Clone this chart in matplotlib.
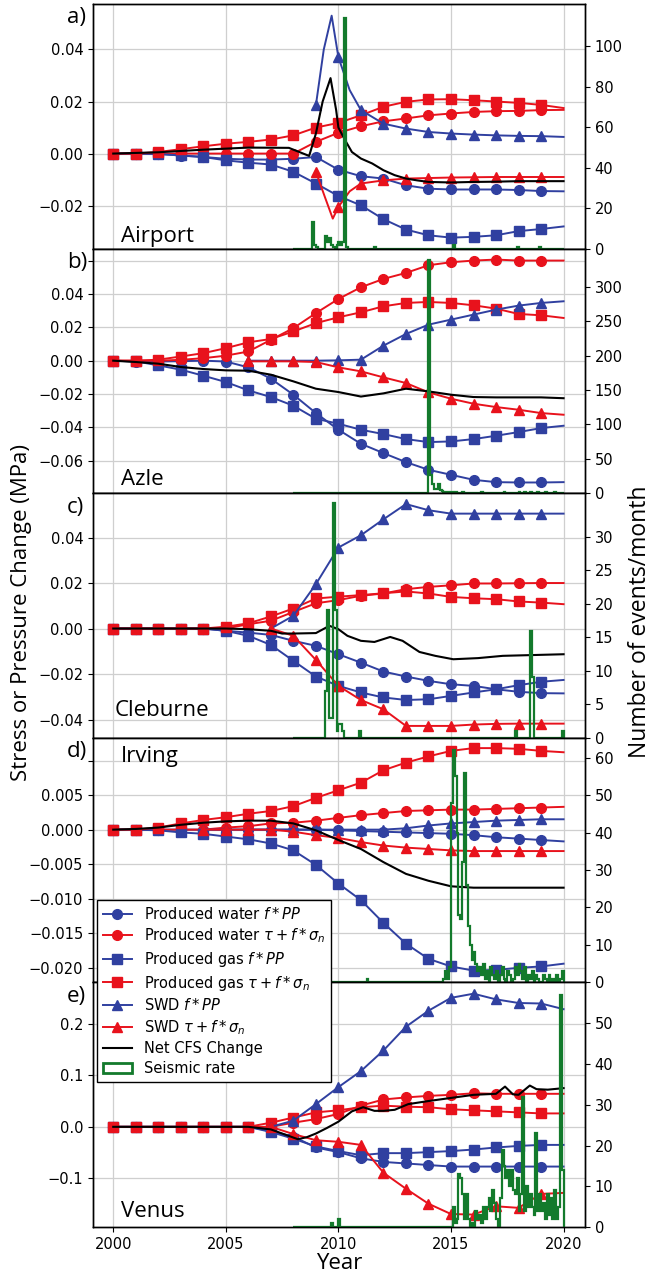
import numpy as np
import matplotlib
matplotlib.use("Agg")
import matplotlib.pyplot as plt
from matplotlib.lines import Line2D
from matplotlib.patches import Patch

BLUE = "#3040a0"
RED = "#e8121c"
GREEN = "#137a2c"
NAN = float("nan")

years = list(range(2000, 2021))

# ---- a) Airport ----
a_pw_pp = [0, 0, 0, -0.0008, -0.0013, -0.002, -0.0023, -0.0023, -0.002, -0.0013, -0.0062,
           -0.0087, -0.0096, -0.0122, -0.0135, -0.0138, -0.0138, -0.0138, -0.014, -0.0144, -0.0145]
a_pw_cfs = [0, 0, 0, 0, 0, 0, 0, 0, 0, 0.0045, 0.008, 0.0105, 0.0124, 0.0135, 0.0147, 0.0154,
            0.016, 0.0163, 0.0164, 0.0167, 0.0168]
a_pg_pp = [0, 0, -0.0002, -0.0007, -0.0013, -0.0026, -0.0035, -0.0042, -0.007, -0.0115, -0.0163,
           -0.0199, -0.0252, -0.0292, -0.0314, -0.0323, -0.032, -0.0314, -0.0298, -0.029, -0.028]
a_pg_cfs = [0, 0, 0.0006, 0.0017, 0.0028, 0.0038, 0.0045, 0.0054, 0.007, 0.010, 0.0118, 0.0147,
            0.018, 0.0199, 0.0208, 0.0209, 0.0205, 0.020, 0.0195, 0.0187, 0.0175]
a_swd_pp_years = [2009, 2009.35, 2009.7, 2010, 2010.5, 2011, 2012, 2013, 2014, 2015, 2016, 2017, 2018, 2019, 2020]
a_swd_pp = [0.0186, 0.040, 0.053, 0.037, 0.0244, 0.0167, 0.0115, 0.0096, 0.0083, 0.0077, 0.0073,
            0.007, 0.0068, 0.0067, 0.0064]
a_swd_cfs_years = [2009, 2009.4, 2009.75, 2010, 2010.5, 2011, 2012, 2013, 2014, 2015, 2016, 2017, 2018, 2019, 2020]
a_swd_cfs = [-0.007, -0.0167, -0.025, -0.0205, -0.0145, -0.0115, -0.0103, -0.0096, -0.0094, -0.0092,
             -0.0091, -0.009, -0.009, -0.009, -0.009]
a_net_years = [2000, 2002, 2004, 2006, 2007.8, 2008.7, 2009, 2009.3, 2009.65, 2009.9, 2010, 2010.3,
               2010.6, 2011, 2011.5, 2012, 2012.5, 2013, 2013.5, 2014, 2015, 2016, 2017, 2018, 2020]
a_net = [0, 0.0005, 0.0015, 0.0023, 0.0022, -0.0009, 0.0077, 0.020, 0.029, 0.0167, 0.010, 0.0051,
         0.0006, -0.0019, -0.0038, -0.0064, -0.0083, -0.0096, -0.0103, -0.0109, -0.0111, -0.0109,
         -0.0108, -0.0106, -0.0106]
a_rate_months = [10, 11, 12, 17, 18, 19, 20, 21, 23, 24, 25, 26, 27, 28, 43, 85, 119, 131]
a_rate = [13, 2, 1, 6, 3, 5, 2, 1, 2, 3, 2, 3, 114, 1, 1, 2, 1, 1]

# ---- b) Azle ----
b_pw_pp = [0, -0.0005, -0.0005, -0.0003, 0, -0.0005, -0.004, -0.0108, -0.0204, -0.0314, -0.0414,
           -0.0498, -0.0554, -0.0608, -0.0654, -0.0684, -0.0714, -0.0728, -0.073, -0.073, -0.0728]
b_pw_cfs = [0, 0, 0, 0.0005, 0.0015, 0.003, 0.0055, 0.0125, 0.0195, 0.0285, 0.037, 0.044, 0.049,
            0.0526, 0.0572, 0.059, 0.060, 0.0606, 0.060, 0.060, 0.060]
b_pg_pp = [0, -0.0004, -0.0028, -0.0054, -0.009, -0.0128, -0.0178, -0.0218, -0.027, -0.0348, -0.0378,
           -0.0414, -0.044, -0.047, -0.0488, -0.0484, -0.047, -0.045, -0.0428, -0.0404, -0.039]
b_pg_cfs = [0, 0, 0.0006, 0.0025, 0.0045, 0.0075, 0.011, 0.013, 0.0175, 0.0225, 0.026, 0.029, 0.0326,
            0.0346, 0.0352, 0.0346, 0.0332, 0.0312, 0.028, 0.0272, 0.0256]
b_swd_pp = [NAN] * 6 + [0, 0, 0, 0, 0.0002, 0.0006, 0.009, 0.016, 0.0216, 0.0246, 0.0276, 0.0306,
                        0.033, 0.0346, 0.0356]
b_swd_cfs = [NAN] * 6 + [-0.0004, -0.0004, -0.0004, -0.0008, -0.004, -0.0064, -0.010, -0.0134, -0.019,
                         -0.0228, -0.0258, -0.0278, -0.0294, -0.0314, -0.0324]
b_net_years = years
b_net = [0, -0.0008, -0.0018, -0.0038, -0.005, -0.0058, -0.006, -0.0084, -0.0124, -0.0168, -0.0188,
         -0.0215, -0.0196, -0.0168, -0.0184, -0.0204, -0.0218, -0.022, -0.022, -0.022, -0.0225]
b_rate_months = [72, 73, 74, 75, 76, 77, 78, 79, 80, 81, 82, 84, 86, 90, 100, 112, 120, 123, 126, 130, 134, 139]
b_rate = [340, 27, 13, 6, 6, 14, 4, 3, 2, 1, 2, 1, 1, 1, 1, 1, 1, 2, 1, 1, 1, 1]

# ---- c) Cleburne ----
c_pw_pp = [0, 0, 0, 0, 0, -0.001, -0.0018, -0.0028, -0.0054, -0.0076, -0.0113, -0.015, -0.0189,
           -0.0211, -0.023, -0.0245, -0.0252, -0.0267, -0.0278, -0.0284, -0.0285]
c_pw_cfs = [0, 0, 0, 0, 0, 0, 0.0019, 0.0034, 0.0073, 0.0111, 0.0125, 0.0144, 0.0154, 0.0173, 0.0183,
            0.019, 0.0198, 0.0198, 0.0199, 0.020, 0.020]
c_pg_pp = [0, 0, 0, 0, 0, -0.001, -0.0032, -0.0072, -0.0142, -0.0211, -0.0252, -0.0281, -0.0303,
           -0.0314, -0.0311, -0.0296, -0.0281, -0.0267, -0.0249, -0.0234, -0.0226]
c_pg_cfs = [0, 0, 0, 0, 0, 0.0008, 0.0023, 0.0053, 0.0088, 0.0132, 0.014, 0.0147, 0.0155, 0.0163,
            0.0154, 0.0139, 0.0133, 0.0129, 0.0119, 0.0114, 0.0107]
c_swd_pp = [NAN] * 7 + [0, 0.0056, 0.0195, 0.0356, 0.041, 0.048, 0.0547, 0.052, 0.0505, 0.0505, 0.0505,
                        0.0505, 0.0505, 0.0505]
c_swd_cfs = [NAN] * 7 + [0, -0.0032, -0.0138, -0.0252, -0.0314, -0.0355, -0.0428, -0.0428, -0.0428,
                         -0.0422, -0.0419, -0.0418, -0.0418, -0.0418]
c_net_years = [2000, 2005, 2006, 2007, 2007.5, 2008, 2009, 2009.6, 2010, 2010.4, 2011, 2011.6, 2012.3,
               2012.85, 2013.6, 2014.3, 2015.1, 2016.2, 2017.3, 2020]
c_net = [0, 0, -0.0003, -0.001, -0.0022, -0.0022, -0.002, 0.0012, -0.0003, -0.0032, -0.0054, -0.0059,
         -0.0037, -0.0054, -0.0103, -0.012, -0.0135, -0.013, -0.012, -0.0113]
c_rate_months = [17, 18, 19, 20, 21, 22, 23, 24, 25, 26, 35, 118, 126, 127, 143]
c_rate = [7, 19, 3, 3, 35, 19, 1, 2, 2, 1, 1, 1, 16, 9, 1]

# ---- d) Irving ----
d_pw_pp = [0, 0, 0, 0, 0, 0, 0, 0, 0, 0, -0.0001, -0.0002, -0.0003, -0.0004, -0.0005, -0.0006,
           -0.0008, -0.0011, -0.0013, -0.0015, -0.0017]
d_pw_cfs = [0, 0, 0, 0, 0, 0.0003, 0.0005, 0.0009, 0.001, 0.0013, 0.0017, 0.0021, 0.0024, 0.0027,
            0.0028, 0.0029, 0.0029, 0.003, 0.0031, 0.0032, 0.0033]
d_pg_pp = [0, 0, -0.0001, -0.0004, -0.0006, -0.001, -0.0014, -0.002, -0.003, -0.0051, -0.0078,
           -0.0102, -0.0135, -0.0165, -0.0187, -0.0198, -0.0204, -0.0203, -0.020, -0.0198, -0.0194]
d_pg_cfs = [0, 0, 0.0003, 0.0009, 0.0014, 0.0018, 0.0023, 0.0027, 0.0034, 0.0046, 0.0057, 0.0068,
            0.0086, 0.0097, 0.0106, 0.0114, 0.0118, 0.0118, 0.0117, 0.0114, 0.0112]
d_swd_pp = [NAN] * 4 + [0, 0, 0, 0, 0, 0, 0, 0, 0, 0.0002, 0.0006, 0.0009, 0.0011, 0.0013, 0.0014,
                        0.0015, 0.0015]
d_swd_cfs = [NAN] * 4 + [0, 0, 0, 0, -0.0003, -0.0008, -0.0012, -0.0018, -0.0023, -0.0026, -0.0028,
                         -0.003, -0.0031, -0.0031, -0.0031, -0.0031, -0.0031]
d_net_years = years
d_net = [0, 0.0001, 0.0003, 0.0007, 0.001, 0.0012, 0.0013, 0.0013, 0.0009, -0.0001, -0.0015, -0.0028,
         -0.0047, -0.0064, -0.0074, -0.0082, -0.0084, -0.0084, -0.0084, -0.0084, -0.0084]
d_rate_months = [39] + list(range(80, 144))
d_rate = [1,
          1, 3, 1, 4, 48, 62, 55, 40, 18, 17, 32, 56, 26, 15, 10, 6, 8, 5, 3, 4,
          2, 5, 1, 3, 0, 4, 2, 1, 3, 0, 2, 4, 1, 0, 3, 2, 0, 1, 4, 2,
          5, 3, 1, 4, 0, 2, 1, 3, 0, 2, 1, 0, 0, 2, 1, 0, 2, 0, 1, 0,
          2, 0, 1, 3]

# ---- e) Venus ----
e_pw_pp = [0] * 7 + [-0.008, -0.019, -0.040, -0.049, -0.061, -0.068, -0.071, -0.074, -0.077, -0.077,
                     -0.077, -0.077, -0.077, -0.077]
e_pw_cfs = [0] * 8 + [0.008, 0.015, 0.025, 0.041, 0.053, 0.057, 0.060, 0.062, 0.065, 0.064, 0.064,
                      0.064, 0.064]
e_pg_pp = [0] * 7 + [-0.010, -0.023, -0.038, -0.047, -0.055, -0.051, -0.051, -0.049, -0.047, -0.044,
                     -0.040, -0.037, -0.035, -0.035]
e_pg_cfs = [0] * 7 + [0.008, 0.018, 0.028, 0.032, 0.038, 0.041, 0.039, 0.038, 0.034, 0.032, 0.030,
                      0.028, 0.026, 0.026]
e_swd_pp = [NAN] * 7 + [0, 0.012, 0.044, 0.077, 0.108, 0.148, 0.194, 0.225, 0.250, 0.258, 0.247,
                        0.240, 0.239, 0.228]
e_swd_cfs = [NAN] * 7 + [0, -0.014, -0.026, -0.029, -0.035, -0.089, -0.120, -0.149, -0.169, -0.170,
                         -0.154, -0.157, -0.130, -0.128]
e_net_years = [2000, 2006, 2007, 2008.2, 2008.6, 2009, 2009.5, 2010, 2010.6, 2011.1, 2011.6, 2012,
               2012.5, 2013.1, 2014, 2015, 2016, 2017, 2017.4, 2017.75, 2018, 2018.5, 2018.8, 2019.3, 2020]
e_net = [0, 0, -0.005, -0.024, -0.020, -0.013, -0.002, 0.010, 0.030, 0.038, 0.031, 0.031, 0.033,
         0.044, 0.050, 0.056, 0.062, 0.064, 0.078, 0.063, 0.062, 0.080, 0.073, 0.072, 0.075]
e_rate_months = [20, 24] + list(range(84, 144))
e_rate = [1, 2,
          0, 5, 1, 2, 13, 12, 8, 2, 8, 2, 0, 1, 0, 4, 2, 3, 1, 5, 2, 5,
          7, 4, 9, 6, 2, 0, 7, 19, 15, 12, 14, 10, 14, 9, 8, 12, 4, 8, 32, 4,
          10, 5, 8, 5, 3, 23, 4, 8, 4, 6, 2, 8, 3, 7, 2, 9, 2, 5, 57, 14]

panels = [
    dict(tag="a)", name="Airport", name_xy=(0.057, 0.027),
         pw_pp=(years, a_pw_pp), pw_cfs=(years, a_pw_cfs), pg_pp=(years, a_pg_pp),
         pg_cfs=(years, a_pg_cfs), swd_pp=(a_swd_pp_years, a_swd_pp),
         swd_cfs=(a_swd_cfs_years, a_swd_cfs), net=(a_net_years, a_net),
         rate=(a_rate_months, a_rate),
         ylim=(-0.0365, 0.0575), yticks=[-0.02, 0.0, 0.02, 0.04], dec=2, hide_top=False,
         ylim2=(0, 121), yticks2=[0, 20, 40, 60, 80, 100]),
    dict(tag="b)", name="Azle", name_xy=(0.057, 0.034),
         pw_pp=(years, b_pw_pp), pw_cfs=(years, b_pw_cfs), pg_pp=(years, b_pg_pp),
         pg_cfs=(years, b_pg_cfs), swd_pp=(years, b_swd_pp), swd_cfs=(years, b_swd_cfs),
         net=(b_net_years, b_net), rate=(b_rate_months, b_rate),
         ylim=(-0.0794, 0.0672), yticks=[-0.06, -0.04, -0.02, 0.0, 0.02, 0.04, 0.06], dec=2,
         hide_top=True, ylim2=(0, 356), yticks2=[0, 50, 100, 150, 200, 250, 300]),
    dict(tag="c)", name="Cleburne", name_xy=(0.045, 0.089),
         pw_pp=(years, c_pw_pp), pw_cfs=(years, c_pw_cfs), pg_pp=(years, c_pg_pp),
         pg_cfs=(years, c_pg_cfs), swd_pp=(years, c_swd_pp), swd_cfs=(years, c_swd_cfs),
         net=(c_net_years, c_net), rate=(c_rate_months, c_rate),
         ylim=(-0.048, 0.0595), yticks=[-0.04, -0.02, 0.0, 0.02, 0.04], dec=2, hide_top=False,
         ylim2=(0, 36.5), yticks2=[0, 5, 10, 15, 20, 25, 30]),
    dict(tag="d)", name="Irving", name_xy=(0.057, 0.899),
         pw_pp=(years, d_pw_pp), pw_cfs=(years, d_pw_cfs), pg_pp=(years, d_pg_pp),
         pg_cfs=(years, d_pg_cfs), swd_pp=(years, d_swd_pp), swd_cfs=(years, d_swd_cfs),
         net=(d_net_years, d_net), rate=(d_rate_months, d_rate),
         ylim=(-0.0221, 0.0133), yticks=[-0.020, -0.015, -0.010, -0.005, 0.0, 0.005, 0.010], dec=3,
         hide_top=True, ylim2=(0, 65.3), yticks2=[0, 10, 20, 30, 40, 50, 60]),
    dict(tag="e)", name="Venus", name_xy=(0.057, 0.040),
         pw_pp=(years, e_pw_pp), pw_cfs=(years, e_pw_cfs), pg_pp=(years, e_pg_pp),
         pg_cfs=(years, e_pg_cfs), swd_pp=(years, e_swd_pp), swd_cfs=(years, e_swd_cfs),
         net=(e_net_years, e_net), rate=(e_rate_months, e_rate),
         ylim=(-0.194, 0.28), yticks=[-0.1, 0.0, 0.1, 0.2], dec=1, hide_top=False,
         ylim2=(0, 60.1), yticks2=[0, 10, 20, 30, 40, 50]),
]

styles = [
    ("pw_pp", BLUE, "o", 7.0, r"Produced water $f*PP$"),
    ("pw_cfs", RED, "o", 7.0, r"Produced water $\tau + f*\sigma_n$"),
    ("pg_pp", BLUE, "s", 6.5, r"Produced gas $f*PP$"),
    ("pg_cfs", RED, "s", 6.5, r"Produced gas $\tau + f*\sigma_n$"),
    ("swd_pp", BLUE, "^", 7.5, r"SWD $f*PP$"),
    ("swd_cfs", RED, "^", 7.5, r"SWD $\tau + f*\sigma_n$"),
]

LABEL_FONT = "Open Sans"
plt.rcParams["font.size"] = 10.5


def plot_series(ax, x, y, color, marker, ms):
    x = np.asarray(x, dtype=float)
    y = np.asarray(y, dtype=float)
    # markers sit on whole years only; the last year is plain line
    marks = np.where(np.isclose(x, np.round(x)) & (x < 2020) & ~np.isnan(y))[0]
    ax.plot(x, y, color=color, lw=1.4, marker=marker, ms=ms, mec=color,
            markevery=[int(i) for i in marks], zorder=3)


def plot_rate(ax2, months, counts):
    edges = 2008 + np.arange(145) / 12.0
    centers = 2008 + (np.asarray(months, dtype=float) + 0.5) / 12.0
    ax2.hist(centers, bins=edges, weights=counts, histtype="step", color=GREEN, lw=1.6)


def tick_label(v, dec):
    return f"{v:.{dec}f}".replace("-", "\u2212")


fig = plt.figure(figsize=(6.58, 12.77), dpi=100)
left, right = 0.1413, 0.889
bottom, top = 0.0392, 0.9969
h = (top - bottom) / len(panels)

for i, p in enumerate(panels):
    y0 = top - (i + 1) * h
    ax = fig.add_axes([left, y0, right - left, h])
    ax.grid(True, color="#cfcfcf", lw=0.9)
    ax.set_axisbelow(True)

    for key, color, marker, ms, _ in styles:
        x, y = p[key]
        plot_series(ax, x, y, color, marker, ms)
    ax.plot(p["net"][0], p["net"][1], color="black", lw=1.5, zorder=4)

    ax.set_xlim(1999.1, 2020.95)
    ax.set_xticks([2000, 2005, 2010, 2015, 2020])
    ax.set_ylim(*p["ylim"])
    labels = [tick_label(v, p["dec"]) for v in p["yticks"]]
    if p["hide_top"]:
        labels[-1] = ""
    ax.set_yticks(p["yticks"], labels)
    if i < len(panels) - 1:
        ax.tick_params(axis="x", labelbottom=False)
    else:
        ax.set_xlabel("Year", fontsize=16, family=LABEL_FONT, labelpad=1)

    ax2 = ax.twinx()
    plot_rate(ax2, *p["rate"])
    ax2.set_ylim(*p["ylim2"])
    ax2.set_yticks(p["yticks2"])

    for a in (ax, ax2):
        for s in a.spines.values():
            s.set_linewidth(1.0)

    ax.text(-0.053, 0.943, p["tag"], transform=ax.transAxes, ha="left", va="center",
            fontsize=16, family=LABEL_FONT)
    ax2.text(p["name_xy"][0], p["name_xy"][1], p["name"], transform=ax.transAxes,
             ha="left", va="baseline", fontsize=16, family=LABEL_FONT)

fig.text(0.033, 0.52, "Stress or Pressure Change (MPa)", rotation=90, ha="center",
         va="center", fontsize=16, family=LABEL_FONT)
fig.text(0.973, 0.513, "Number of events/month", rotation=90, ha="center",
         va="center", fontsize=16.5, family=LABEL_FONT)

handles = [Line2D([], [], color=c, marker=m, ms=ms, lw=1.4) for _, c, m, ms, _ in styles]
labels = [lab for *_, lab in styles]
handles.append(Line2D([], [], color="black", lw=1.5))
labels.append("Net CFS Change")
handles.append(Patch(facecolor="none", edgecolor=GREEN, lw=2))
labels.append("Seismic rate")
leg = fig.legend(handles, labels, loc="upper left", bbox_to_anchor=(0.1474, 0.2952),
                 borderaxespad=0, fontsize=10.5, labelspacing=0.32, framealpha=1,
                 edgecolor="black", fancybox=False)
leg.get_frame().set_linewidth(1.0)

fig.savefig("out.png", dpi=100)
